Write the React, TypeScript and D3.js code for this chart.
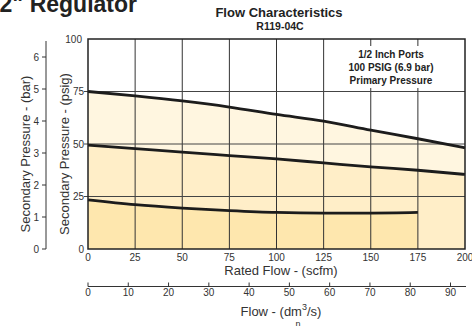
import * as d3 from 'd3';

// rated flow positions (scfm) and secondary pressure curves (psig)
const scfm = [0, 25, 50, 75, 100, 125, 150, 175, 200];
const curve75 = [75, 72.9, 70.5, 67.6, 64.1, 60.9, 56.6, 52.5, 48.2];
const curve50 = [49.5, 47.8, 46.1, 44.5, 42.9, 41.0, 39.1, 37.5, 35.5];
const curve25 = [23.4, 21.1, 19.5, 18.3, 17.4, 17.1, 17.1, 17.4];

const scfmTicks = [0, 25, 50, 75, 100, 125, 150, 175, 200];
const psigTicks = [0, 25, 50, 75, 100];
const barTicks = [0, 1, 2, 3, 4, 5, 6];
const dm3Ticks = [0, 10, 20, 30, 40, 50, 60, 70, 80, 90];
const noteLines = ['1/2 Inch Ports', '100 PSIG (6.9 bar)', 'Primary Pressure'];

const W = 472;
const H = 326;
const FONT = '"Liberation Sans", Arial, Helvetica, sans-serif';

export default function App() {
  const x = d3.scaleLinear().domain([0, 200]).range([88, 465]);
  const y = d3.scaleLinear().domain([0, 100]).range([249, 39]);
  const yBar = d3.scaleLinear().domain([0, 6.5]).range([249, 41]);
  const x2 = d3.scaleLinear().domain([0, 93.6]).range([88, 465]);

  const pts = (vals: number[]) => vals.map((v, i) => [scfm[i], v] as [number, number]);

  const line = d3
    .line<[number, number]>()
    .x(d => x(d[0]))
    .y(d => y(d[1]))
    .curve(d3.curveMonotoneX);

  const area = d3
    .area<[number, number]>()
    .x(d => x(d[0]))
    .y0(y(0))
    .y1(d => y(d[1]))
    .curve(d3.curveMonotoneX);

  const [x0, x1] = x.range();
  const [yb, yt] = y.range();
  const tickColor = '#333';

  return (
    <svg
      width={W}
      height={H}
      style={{ position: 'absolute', left: 0, top: 0, background: '#fff' }}
      fontFamily={FONT}
    >
      {/* page title, cut off at the left */}
      <text x={137} y={12} textAnchor="end" fontSize={23} fontWeight="bold" fill="#222">
        2" Regulator
      </text>

      {/* chart title */}
      <text x={279} y={16.5} textAnchor="middle" fontSize={13} fontWeight="bold" fill="#222">
        Flow Characteristics
      </text>
      <text x={280} y={30} textAnchor="middle" fontSize={10.5} fontWeight="bold" fill="#222">
        R119-04C
      </text>

      {/* filled bands */}
      <path d={area(pts(curve75)) || ''} fill="#fff6e0" />
      <path d={area(pts(curve50)) || ''} fill="#ffeec8" />
      <path d={area(pts(curve25)) || ''} fill="#fee7ae" />

      {/* grid */}
      {scfmTicks.slice(1, -1).map(t => (
        <line key={'v' + t} x1={x(t)} x2={x(t)} y1={yt} y2={yb} stroke="#333" strokeWidth={1} />
      ))}
      {psigTicks.slice(1, -1).map(t => (
        <line key={'h' + t} x1={x0 - 4} x2={x1} y1={y(t)} y2={y(t)} stroke="#444" strokeWidth={1} />
      ))}

      {/* note box */}
      <rect x={346} y={46} width={86} height={42} fill="#fff" />
      {noteLines.map((s, i) => (
        <text
          key={s}
          x={391}
          y={58 + i * 13}
          textAnchor="middle"
          fontSize={10}
          fontWeight="bold"
          fill="#222"
        >
          {s}
        </text>
      ))}

      {/* curves */}
      <path d={line(pts(curve75)) || ''} fill="none" stroke="#1c1c1c" strokeWidth={2.8} />
      <path d={line(pts(curve50)) || ''} fill="none" stroke="#1c1c1c" strokeWidth={2.8} />
      <path d={line(pts(curve25)) || ''} fill="none" stroke="#1c1c1c" strokeWidth={2.8} />

      {/* plot frame */}
      <rect x={x0} y={yt} width={x1 - x0} height={yb - yt} fill="none" stroke="#222" strokeWidth={1.5} />

      {/* psig axis labels */}
      {psigTicks.map(t => (
        <text
          key={'p' + t}
          x={t === 100 ? 82 : 84}
          y={y(t)}
          dy="0.35em"
          textAnchor="end"
          fontSize={10}
          fill={tickColor}
        >
          {t}
        </text>
      ))}
      <text
        transform={`translate(69,${(yt + yb) / 2 + 10}) rotate(-90)`}
        textAnchor="middle"
        fontSize={13}
        fill={tickColor}
      >
        Secondary Pressure - (psig)
      </text>

      {/* bar axis */}
      <line x1={46} x2={46} y1={yBar.range()[1]} y2={yBar.range()[0]} stroke="#333" strokeWidth={1} />
      {barTicks.map(t => (
        <g key={'b' + t}>
          <line x1={42} x2={46} y1={yBar(t)} y2={yBar(t)} stroke="#333" />
          <text x={39} y={yBar(t)} dy="0.35em" textAnchor="end" fontSize={10} fill={tickColor}>
            {t}
          </text>
        </g>
      ))}
      <text
        transform={`translate(30,${(yt + yb) / 2 + 10}) rotate(-90)`}
        textAnchor="middle"
        fontSize={13}
        fill={tickColor}
      >
        Secondary Pressure - (bar)
      </text>

      {/* scfm axis labels */}
      {scfmTicks.map(t => (
        <text key={'s' + t} x={x(t)} y={261} textAnchor="middle" fontSize={10} fill={tickColor}>
          {t}
        </text>
      ))}
      <text x={281} y={275} textAnchor="middle" fontSize={13} fill={tickColor}>
        Rated Flow - (scfm)
      </text>

      {/* dm3/s axis */}
      <line x1={x0} x2={x1 + 1} y1={286.5} y2={286.5} stroke="#333" strokeWidth={1.2} />
      {dm3Ticks.map(t => (
        <g key={'d' + t}>
          <line x1={x2(t)} x2={x2(t)} y1={282.5} y2={286.5} stroke="#333" />
          <text x={x2(t)} y={296} textAnchor="middle" fontSize={10} fill={tickColor}>
            {t}
          </text>
        </g>
      ))}
      <text x={281} y={316} textAnchor="middle" fontSize={13} fill={tickColor}>
        Flow - (dm<tspan fontSize={9} dy={-6}>3</tspan>
        <tspan dy={6}>/s)</tspan>
      </text>
      <text x={298} y={327} textAnchor="middle" fontSize={9} fill={tickColor}>
        n
      </text>
    </svg>
  );
}
